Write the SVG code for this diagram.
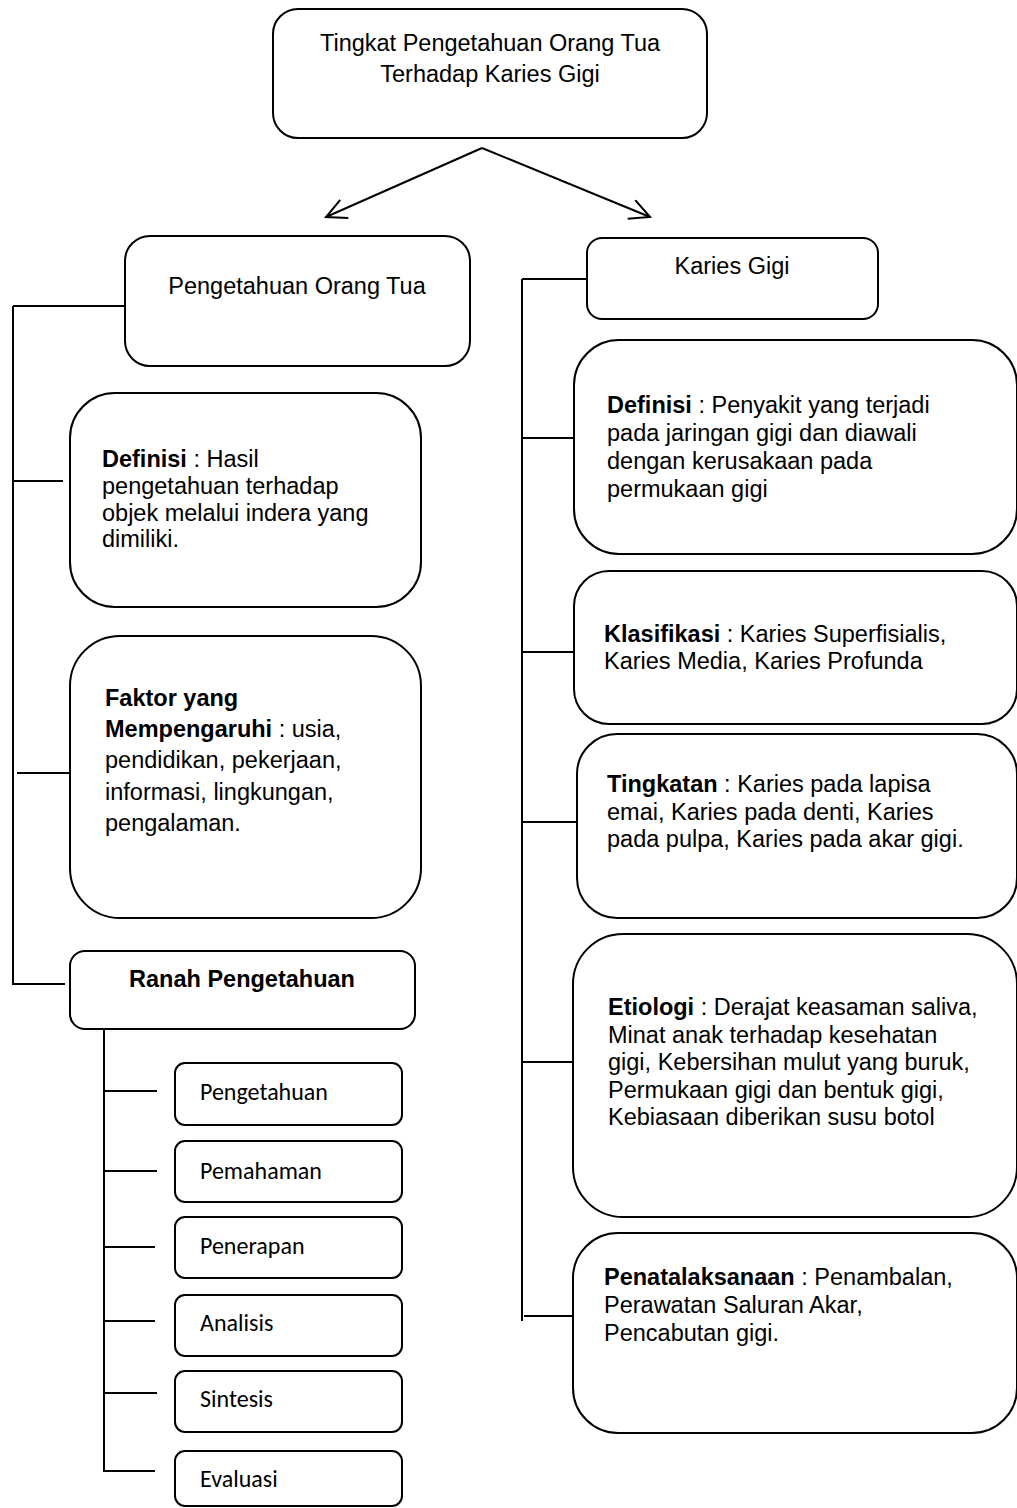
<svg xmlns="http://www.w3.org/2000/svg" width="1017" height="1508" viewBox="0 0 1017 1508">
<style>
.box{fill:#fff;stroke:#000;stroke-width:2}
.ln{stroke:#000;stroke-width:2;fill:none}
.t{font-family:"Liberation Sans",Arial,sans-serif;font-size:23.5px;fill:#000}
.c{font-family:Carlito,Lato,"Open Sans",sans-serif;font-size:24px;fill:#000}
.b{font-weight:bold}
</style>
<defs>
<marker id="open" markerUnits="userSpaceOnUse" markerWidth="30" markerHeight="30" refX="22" refY="11" orient="auto">
<path d="M2,1 L22,11 L2,21" fill="none" stroke="#000" stroke-width="2"/>
</marker>
</defs>
<rect width="1017" height="1508" fill="#fff"/>
<g id="connectors">
<line class="ln" x1="482" y1="148" x2="326" y2="217" marker-end="url(#open)"/>
<line class="ln" x1="482" y1="148" x2="650" y2="217" marker-end="url(#open)"/>
<line class="ln" x1="13" y1="306" x2="13" y2="985"/>
<line class="ln" x1="13" y1="306" x2="125" y2="306"/>
<line class="ln" x1="13" y1="481" x2="63" y2="481"/>
<line class="ln" x1="17" y1="773" x2="70" y2="773"/>
<line class="ln" x1="13" y1="984" x2="65" y2="984"/>
<line class="ln" x1="104" y1="1030" x2="104" y2="1472"/>
<line class="ln" x1="104" y1="1091" x2="157" y2="1091"/>
<line class="ln" x1="104" y1="1171" x2="157" y2="1171"/>
<line class="ln" x1="104" y1="1247" x2="155" y2="1247"/>
<line class="ln" x1="104" y1="1321" x2="155" y2="1321"/>
<line class="ln" x1="104" y1="1393" x2="157" y2="1393"/>
<line class="ln" x1="104" y1="1471" x2="155" y2="1471"/>
<line class="ln" x1="522" y1="279" x2="522" y2="1321"/>
<line class="ln" x1="522" y1="279" x2="587" y2="279"/>
<line class="ln" x1="522" y1="438" x2="574" y2="438"/>
<line class="ln" x1="522" y1="652" x2="574" y2="652"/>
<line class="ln" x1="522" y1="822" x2="577" y2="822"/>
<line class="ln" x1="522" y1="1062" x2="573" y2="1062"/>
<line class="ln" x1="524" y1="1316" x2="573" y2="1316"/>
</g>
<g id="root">
<rect class="box" x="273" y="9" width="434" height="129" rx="25"/>
<text class="t" text-anchor="middle"><tspan x="490" y="51">Tingkat Pengetahuan Orang Tua</tspan><tspan x="490" y="82">Terhadap Karies Gigi</tspan></text>
</g>
<g id="pengetahuan-orang-tua">
<rect class="box" x="125" y="236" width="345" height="130" rx="25"/>
<text class="t" x="297" y="294" text-anchor="middle">Pengetahuan Orang Tua</text>
</g>
<g id="definisi-left">
<rect class="box" x="70" y="393" width="351" height="214" rx="45"/>
<text class="t"><tspan x="102" y="467"><tspan class="b">Definisi</tspan> : Hasil</tspan><tspan x="102" y="494">pengetahuan terhadap</tspan><tspan x="102" y="520.5">objek melalui indera yang</tspan><tspan x="102" y="547">dimiliki.</tspan></text>
</g>
<g id="faktor">
<rect class="box" x="70" y="636" width="351" height="282" rx="50"/>
<text class="t"><tspan x="105" y="706" class="b">Faktor yang</tspan><tspan x="105" y="737"><tspan class="b">Mempengaruhi</tspan> : usia,</tspan><tspan x="105" y="768">pendidikan, pekerjaan,</tspan><tspan x="105" y="800">informasi, lingkungan,</tspan><tspan x="105" y="831">pengalaman.</tspan></text>
</g>
<g id="ranah">
<rect class="box" x="70" y="951" width="345" height="78" rx="15"/>
<text class="t b" x="242" y="987" text-anchor="middle">Ranah Pengetahuan</text>
</g>
<g id="r-pengetahuan">
<rect class="box" x="175" y="1063" width="227" height="62" rx="10"/>
<text class="c" x="200" y="1100">Pengetahuan</text>
</g>
<g id="r-pemahaman">
<rect class="box" x="175" y="1141" width="227" height="61" rx="10"/>
<text class="c" x="200" y="1179">Pemahaman</text>
</g>
<g id="r-penerapan">
<rect class="box" x="175" y="1217" width="227" height="61" rx="10"/>
<text class="c" x="200" y="1254">Penerapan</text>
</g>
<g id="r-analisis">
<rect class="box" x="175" y="1295" width="227" height="61" rx="10"/>
<text class="c" x="200" y="1331">Analisis</text>
</g>
<g id="r-sintesis">
<rect class="box" x="175" y="1371" width="227" height="61" rx="10"/>
<text class="c" x="200" y="1407">Sintesis</text>
</g>
<g id="r-evaluasi">
<rect class="box" x="175" y="1451" width="227" height="55" rx="10"/>
<text class="c" x="200" y="1487">Evaluasi</text>
</g>
<g id="karies-gigi">
<rect class="box" x="587" y="238" width="291" height="81" rx="15"/>
<text class="t" x="732" y="274" text-anchor="middle">Karies Gigi</text>
</g>
<g id="definisi-right">
<rect class="box" x="574" y="340" width="443" height="214" rx="45"/>
<text class="t"><tspan x="607" y="413"><tspan class="b">Definisi</tspan> : Penyakit yang terjadi</tspan><tspan x="607" y="441">pada jaringan gigi dan diawali</tspan><tspan x="607" y="469">dengan kerusakaan pada</tspan><tspan x="607" y="497">permukaan gigi</tspan></text>
</g>
<g id="klasifikasi">
<rect class="box" x="574" y="571" width="443" height="153" rx="35"/>
<text class="t"><tspan x="604" y="642"><tspan class="b">Klasifikasi</tspan> : Karies Superfisialis,</tspan><tspan x="604" y="669">Karies Media, Karies Profunda</tspan></text>
</g>
<g id="tingkatan">
<rect class="box" x="577" y="734" width="440" height="184" rx="40"/>
<text class="t"><tspan x="607" y="792"><tspan class="b">Tingkatan</tspan> : Karies pada lapisa</tspan><tspan x="607" y="820">emai, Karies pada denti, Karies</tspan><tspan x="607" y="847">pada pulpa, Karies pada akar gigi.</tspan></text>
</g>
<g id="etiologi">
<rect class="box" x="573" y="934" width="444" height="283" rx="50"/>
<text class="t"><tspan x="608" y="1015"><tspan class="b">Etiologi</tspan> : Derajat keasaman saliva,</tspan><tspan x="608" y="1043">Minat anak terhadap kesehatan</tspan><tspan x="608" y="1070">gigi, Kebersihan mulut yang buruk,</tspan><tspan x="608" y="1098">Permukaan gigi dan bentuk gigi,</tspan><tspan x="608" y="1125">Kebiasaan diberikan susu botol</tspan></text>
</g>
<g id="penatalaksanaan">
<rect class="box" x="573" y="1233" width="444" height="200" rx="45"/>
<text class="t"><tspan x="604" y="1285"><tspan class="b">Penatalaksanaan</tspan> : Penambalan,</tspan><tspan x="604" y="1313">Perawatan Saluran Akar,</tspan><tspan x="604" y="1341">Pencabutan gigi.</tspan></text>
</g>
</svg>
